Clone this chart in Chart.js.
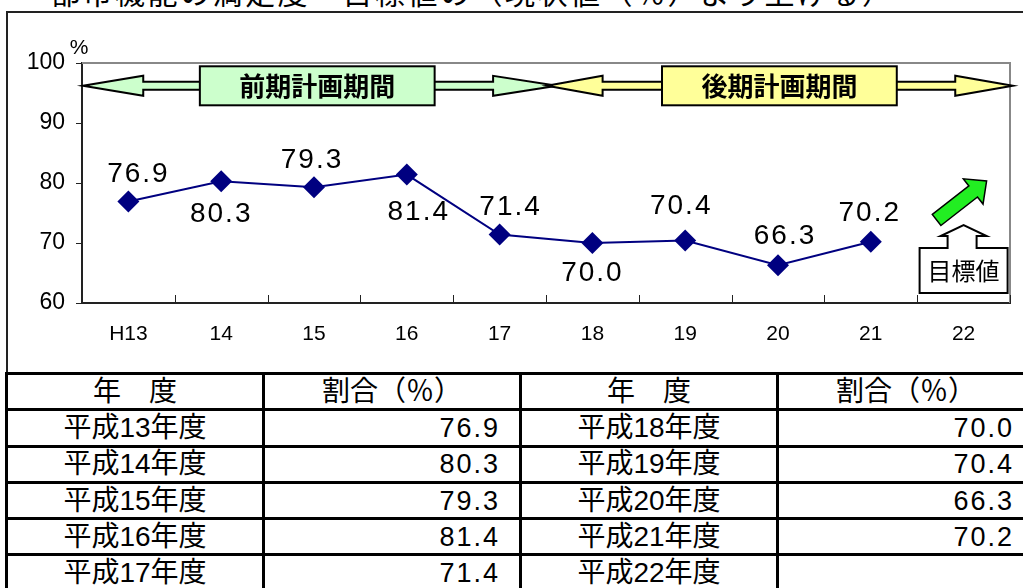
<!DOCTYPE html>
<html>
<head>
<meta charset="utf-8">
<script src="https://cdn.jsdelivr.net/npm/chart.js@4/dist/chart.umd.min.js"></script>
<style>
  body { margin: 0; width: 1023px; height: 588px; overflow: hidden; background: #fff; position: relative;
         font-family: "Liberation Sans", "Noto Sans CJK JP", sans-serif; color: #000; }
  #title { position: absolute; left: 50px; top: -21px; font-size: 30px; line-height: 30px; letter-spacing: 2.5px; white-space: nowrap; }
  #frame { position: absolute; left: 6px; top: 11px; width: 1100px; height: 364px; border: 2px solid #222; box-sizing: border-box; }
  #wrap { position: absolute; left: 0; top: 0; width: 1023px; height: 372px; }
  table { position: absolute; left: 5px; top: 372px; width: 1030px; border-collapse: collapse; table-layout: fixed; font-size: 28px; }
  td { border: 3px solid #000; padding: 0; height: 33.3px; line-height: 30px; text-align: center; white-space: nowrap; }
  td.v { text-align: right; padding-right: 19px; letter-spacing: 2px; font-size: 27px; }
</style>
</head>
<body>
<div id="title">都市機能の満足度・目標値の（現状値（％）より上げる）</div>
<div id="frame"></div>
<div id="wrap"><canvas id="c" width="1023" height="372"></canvas></div>
<table id="tbl"></table>
<script>
'use strict';

// 年度ラベル（グラフ軸）
let axisLabels = ['H13', '14', '15', '16', '17', '18', '19', '20', '21', '22'];
// 表の年度
let fiscalYears = ['平成13年度', '平成14年度', '平成15年度', '平成16年度', '平成17年度',
                   '平成18年度', '平成19年度', '平成20年度', '平成21年度', '平成22年度'];
// 満足度（%）、22年度は未計測
let satisfaction = [76.9, 80.3, 79.3, 81.4, 71.4, 70.0, 70.4, 66.3, 70.2, null];
let yTicks = [60, 70, 80, 90, 100];

// label offset from each point [dx, dy]
let labelOffsets = [[9, -27], [-1, 33], [-3, -27], [11, 38], [10, -27], [-1, 30], [-5, -34], [6, -29], [-2, -29], [0, 0]];

// table
let tbl = document.getElementById('tbl');
let colW = 257;
let html = '<colgroup>' + ('<col style="width:' + colW + 'px">').repeat(4) + '</colgroup>';
html += '<tr><td>年　度</td><td>割合（％）</td><td>年　度</td><td>割合（％）</td></tr>';
for (let i = 0; i < 5; i++) {
	let a = satisfaction[i], b = satisfaction[i + 5];
	html += '<tr><td>' + fiscalYears[i] + '</td><td class="v">' + (a == null ? '' : a.toFixed(1)) + '</td>' +
	        '<td>' + fiscalYears[i + 5] + '</td><td class="v">' + (b == null ? '' : b.toFixed(1)) + '</td></tr>';
}
tbl.innerHTML = html;

let drawBanner = (ctx, xs, yc, fill, text) => {
	// xs: [tipL, headL, boxL, boxR, headR, tipR]
	let hh = 10, sh = 4, bh = 19.5;
	ctx.save();
	ctx.lineWidth = 2;
	ctx.strokeStyle = '#000';
	ctx.fillStyle = fill;
	ctx.beginPath();
	ctx.moveTo(xs[0], yc);
	ctx.lineTo(xs[1], yc - hh);
	ctx.lineTo(xs[1], yc - sh);
	ctx.lineTo(xs[4], yc - sh);
	ctx.lineTo(xs[4], yc - hh);
	ctx.lineTo(xs[5], yc);
	ctx.lineTo(xs[4], yc + hh);
	ctx.lineTo(xs[4], yc + sh);
	ctx.lineTo(xs[1], yc + sh);
	ctx.lineTo(xs[1], yc + hh);
	ctx.closePath();
	ctx.fill();
	ctx.stroke();
	ctx.fillRect(xs[2], yc - bh, xs[3] - xs[2], bh * 2);
	ctx.strokeRect(xs[2], yc - bh, xs[3] - xs[2], bh * 2);
	ctx.fillStyle = '#000';
	ctx.font = 'bold 26px "Noto Sans CJK JP"';
	ctx.textAlign = 'center';
	ctx.textBaseline = 'middle';
	ctx.fillText(text, (xs[2] + xs[3]) / 2, yc);
	ctx.restore();
};

let decorations = {
	id: 'decorations',
	beforeDatasetsDraw(chart) {
		let {ctx, chartArea: a} = chart;
		ctx.save();
		// plot area frame (top / right)
		ctx.strokeStyle = '#888';
		ctx.lineWidth = 2;
		ctx.beginPath();
		ctx.moveTo(a.left, a.top);
		ctx.lineTo(a.right, a.top);
		ctx.lineTo(a.right, a.bottom);
		ctx.stroke();
		// inward category ticks
		let band = (a.right - a.left) / axisLabels.length;
		ctx.strokeStyle = '#222';
		ctx.lineWidth = 1;
		ctx.beginPath();
		for (let i = 1; i <= axisLabels.length; i++) {
			let x = Math.round(a.left + band * i) + 0.5;
			ctx.moveTo(x, a.bottom);
			ctx.lineTo(x, a.bottom - 8);
		}
		ctx.stroke();
		// unit
		ctx.fillStyle = '#000';
		ctx.font = '21px "Liberation Sans"';
		ctx.textAlign = 'center';
		ctx.textBaseline = 'middle';
		ctx.fillText('%', a.left - 3, a.top - 15);
		ctx.restore();
	},
	afterDatasetsDraw(chart) {
		let {ctx, chartArea: a} = chart;
		let ys = chart.scales.y;
		let band = (a.right - a.left) / axisLabels.length;
		let bx = (k) => a.left + band * k;

		// data labels
		let meta = chart.getDatasetMeta(0);
		ctx.save();
		ctx.fillStyle = '#000';
		ctx.font = '28px "Liberation Sans"';
		ctx.letterSpacing = '2px';
		ctx.textAlign = 'center';
		ctx.textBaseline = 'middle';
		meta.data.forEach((pt, i) => {
			let v = satisfaction[i];
			if (v == null) return;
			let o = labelOffsets[i];
			ctx.fillText(v.toFixed(1), pt.x + o[0] + 1, pt.y + o[1]);
		});
		ctx.restore();

		// period banners
		let yc = ys.getPixelForValue(96.2);
		drawBanner(ctx, [bx(0.01), bx(0.66), bx(1.27), bx(3.80), bx(4.43), bx(5.12)], yc, '#ccffcc', '前期計画期間');
		drawBanner(ctx, [bx(5.01), bx(5.61), bx(6.25), bx(8.78), bx(9.41), bx(10.03)], yc, '#ffff99', '後期計画期間');

		// target callout under last category
		let cx = chart.scales.x.getPixelForValue(9);
		let by = ys.getPixelForValue(60);
		ctx.save();
		ctx.lineWidth = 2;
		ctx.strokeStyle = '#000';
		ctx.fillStyle = '#fff';
		let bt = by - 55, bb = by - 10, bl = cx - 44, br = cx + 44;
		ctx.beginPath();
		ctx.moveTo(bl, bt);
		ctx.lineTo(cx - 16, bt);
		ctx.lineTo(cx - 16, bt - 12);
		ctx.lineTo(cx - 23, bt - 12);
		ctx.lineTo(cx, bt - 23);
		ctx.lineTo(cx + 23, bt - 12);
		ctx.lineTo(cx + 13, bt - 12);
		ctx.lineTo(cx + 13, bt);
		ctx.lineTo(br, bt);
		ctx.lineTo(br, bb);
		ctx.lineTo(bl, bb);
		ctx.closePath();
		ctx.fill();
		ctx.stroke();
		ctx.fillStyle = '#000';
		ctx.font = '24px "Noto Sans CJK JP"';
		ctx.textAlign = 'center';
		ctx.textBaseline = 'middle';
		ctx.fillText('目標値', cx, (bt + bb) / 2);

		// green up arrow
		let tail = [cx - 27, by - 83], tip = [cx + 23, by - 122];
		let dx = tip[0] - tail[0], dy = tip[1] - tail[1];
		let len = Math.hypot(dx, dy);
		let ux = dx / len, uy = dy / len, nx = -uy, ny = ux;
		let sw = 7, hw = 16, hl = 17;
		let hbx = tip[0] - ux * hl, hby = tip[1] - uy * hl;
		ctx.beginPath();
		ctx.moveTo(tail[0] + nx * sw, tail[1] + ny * sw);
		ctx.lineTo(hbx + nx * sw, hby + ny * sw);
		ctx.lineTo(hbx + nx * hw, hby + ny * hw);
		ctx.lineTo(tip[0], tip[1]);
		ctx.lineTo(hbx - nx * hw, hby - ny * hw);
		ctx.lineTo(hbx - nx * sw, hby - ny * sw);
		ctx.lineTo(tail[0] - nx * sw, tail[1] - ny * sw);
		ctx.closePath();
		ctx.fillStyle = '#22ee22';
		ctx.fill();
		ctx.lineWidth = 1.5;
		ctx.stroke();
		ctx.restore();
	}
};

let myChart = new Chart(document.getElementById('c'), {
	type: 'line',
	data: {
		labels: axisLabels,
		datasets: [{
			data: satisfaction,
			borderColor: '#000080',
			borderWidth: 2,
			pointStyle: 'rectRot',
			pointRadius: 11,
			pointBorderWidth: 0,
			pointBackgroundColor: '#000080',
			pointBorderColor: '#000080',
			tension: 0
		}]
	},
	options: {
		responsive: false,
		animation: false,
		layout: { padding: { top: 63, right: 13, left: 0, bottom: 0 } },
		plugins: { legend: { display: false }, tooltip: { enabled: false } },
		scales: {
			x: {
				offset: true,
				grid: { display: false, drawTicks: false },
				border: { display: true, color: '#222', width: 2 },
				ticks: { color: '#000', font: { family: 'Liberation Sans', size: 21 }, padding: 19, maxRotation: 0 },
				afterFit: (s) => { s.height = 69; }
			},
			y: {
				min: 60,
				max: 100,
				grid: { display: true, drawOnChartArea: false, drawTicks: true, tickLength: 6, color: '#222', lineWidth: 1 },
				border: { display: true, color: '#222', width: 2 },
				ticks: { stepSize: 10, color: '#000', font: { family: 'Liberation Sans', size: 23 }, padding: 11,
					callback: (v) => yTicks.includes(v) ? String(v) : '' },
				afterFit: (s) => { s.width = 82; }
			}
		}
	},
	plugins: [decorations]
});
</script>
</body>
</html>
